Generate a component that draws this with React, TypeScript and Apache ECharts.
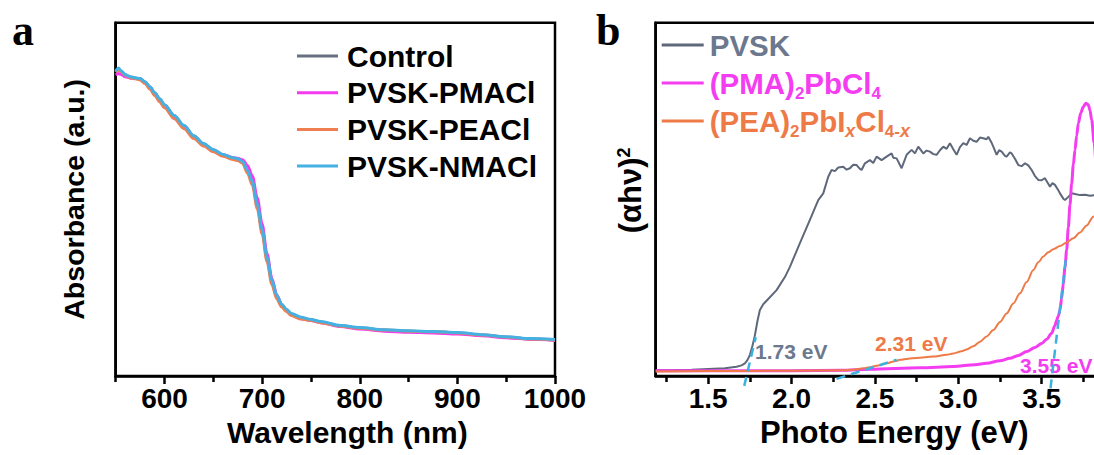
import React, { useEffect, useRef } from "react";
import * as echarts from "echarts";

// ---------- Panel a: absorbance ----------
const wavelengthNm = [550, 553, 555, 560, 565, 570, 575, 580, 585, 590, 595, 600, 610, 620, 630, 640, 650, 660, 670, 675, 680, 685, 690, 695, 700, 705, 710, 715, 720, 725, 730, 740, 750, 760, 780, 800, 825, 850, 875, 900, 925, 950, 975, 1000];
const absControl = [86.0, 86.9, 86.3, 85.2, 84.6, 84.3, 84.1, 83.2, 81.8, 80.1, 78.4, 76.7, 73.6, 70.8, 67.9, 65.7, 64.0, 62.6, 61.7, 61.4, 60.6, 58.0, 54.9, 48.4, 41.3, 33.4, 26.9, 22.6, 20.1, 18.7, 17.5, 16.4, 15.9, 15.3, 14.2, 13.6, 13.0, 12.7, 12.5, 12.2, 11.6, 11.0, 10.5, 10.2];
const absPMACl = [85.2, 85.6, 85.4, 84.7, 84.3, 84.2, 84.0, 83.1, 81.7, 80.0, 78.3, 76.6, 73.5, 70.7, 67.8, 65.6, 63.9, 62.6, 61.8, 61.6, 61.2, 59.6, 56.6, 50.4, 43.0, 34.6, 27.6, 22.9, 20.2, 18.6, 17.3, 16.2, 15.7, 15.1, 14.0, 13.3, 12.7, 12.4, 12.2, 11.9, 11.4, 10.8, 10.4, 10.1];
const absPEACl = [86.1, 86.6, 86.2, 85.1, 84.4, 84.1, 83.8, 82.8, 81.2, 79.4, 77.6, 75.9, 72.8, 70.0, 67.2, 65.1, 63.5, 62.2, 61.3, 61.0, 60.2, 57.4, 54.0, 47.4, 40.2, 32.4, 25.9, 21.8, 19.5, 18.2, 17.1, 16.1, 15.7, 15.1, 14.1, 13.5, 13.0, 12.7, 12.5, 12.2, 11.6, 11.0, 10.5, 10.2];
const absNMACl = [86.3, 87.2, 86.5, 85.3, 84.7, 84.4, 84.2, 83.3, 81.9, 80.2, 78.5, 76.8, 73.7, 70.9, 68.0, 65.8, 64.1, 62.7, 61.8, 61.5, 60.7, 58.2, 55.1, 48.6, 41.5, 33.6, 27.1, 22.8, 20.3, 18.9, 17.7, 16.6, 16.0, 15.4, 14.3, 13.7, 13.1, 12.8, 12.6, 12.3, 11.7, 11.1, 10.6, 10.3];
const wlTickLabels = [600, 700, 800, 900, 1000];
const wlMajorTicks = [600, 700, 800, 900, 1000];
const wlMinorTicks = [550, 650, 750, 850, 950];
const seriesNamesA = ["Control", "PVSK-PMACl", "PVSK-PEACl", "PVSK-NMACl"];

// ---------- Panel b: Tauc plot ----------
const pvskEnergy = [1.185, 1.3, 1.4, 1.5, 1.6, 1.67, 1.7, 1.72, 1.735, 1.75, 1.765, 1.78, 1.795, 1.81, 1.83, 1.86, 1.91, 1.96, 1.99, 2.05, 2.11, 2.16, 2.19, 2.22, 2.24, 2.26, 2.28, 2.31, 2.33, 2.35, 2.37, 2.39, 2.41, 2.42, 2.44, 2.47, 2.49, 2.51, 2.54, 2.57, 2.6, 2.61, 2.63, 2.66, 2.69, 2.72, 2.74, 2.76, 2.79, 2.81, 2.83, 2.85, 2.87, 2.89, 2.91, 2.93, 2.95, 2.97, 2.99, 3.01, 3.03, 3.05, 3.07, 3.09, 3.11, 3.13, 3.15, 3.17, 3.18, 3.2, 3.21, 3.23, 3.245, 3.26, 3.28, 3.29, 3.31, 3.32, 3.34, 3.36, 3.38, 3.4, 3.42, 3.44, 3.46, 3.48, 3.5, 3.52, 3.535, 3.55, 3.565, 3.58, 3.6, 3.61, 3.63, 3.64, 3.66, 3.68, 3.7, 3.73, 3.76, 3.79, 3.82, 3.85];
const pvskSignal = [1.6, 1.7, 1.8, 2.0, 2.2, 2.6, 3.0, 3.6, 4.5, 6.0, 8.5, 11.5, 15.5, 18.7, 20.3, 21.8, 24.3, 28.0, 30.9, 37.6, 44.2, 49.8, 51.7, 56.4, 58.3, 58.0, 59.0, 59.2, 58.4, 58.8, 59.8, 59.7, 58.6, 58.3, 60.2, 61.1, 60.3, 62.1, 61.1, 62.1, 63.0, 61.8, 61.6, 58.8, 62.6, 64.0, 63.0, 64.9, 63.0, 63.8, 63.5, 62.8, 62.6, 63.9, 64.9, 64.3, 65.9, 64.2, 62.6, 64.8, 65.9, 65.4, 67.3, 66.6, 66.3, 67.5, 67.3, 67.0, 67.7, 66.0, 64.9, 62.6, 63.9, 63.5, 62.3, 62.1, 63.3, 63.0, 61.5, 59.7, 59.4, 60.2, 59.6, 58.3, 56.6, 55.5, 55.4, 56.0, 54.8, 53.6, 54.6, 54.1, 52.6, 51.7, 50.2, 49.8, 50.7, 51.7, 51.5, 51.2, 51.3, 51.0, 51.2, 51.0];
const pmaEnergy = [1.185, 1.5, 2.0, 2.3, 2.47, 2.77, 2.97, 3.1, 3.17, 3.25, 3.31, 3.36, 3.41, 3.46, 3.5, 3.53, 3.56, 3.58, 3.59, 3.6, 3.61, 3.62, 3.63, 3.64, 3.65, 3.66, 3.67, 3.68, 3.69, 3.7, 3.71, 3.72, 3.735, 3.75, 3.765, 3.78, 3.79, 3.8, 3.815, 3.83, 3.85];
const pmaSignal = [1.5, 1.5, 1.5, 1.6, 1.9, 2.3, 2.7, 3.2, 3.6, 4.3, 5.0, 5.8, 6.9, 8.1, 9.2, 10.4, 12.1, 14.3, 15.8, 17.0, 18.7, 22.0, 26.2, 30.8, 35.7, 42.0, 48.5, 54.5, 59.8, 64.0, 68.0, 71.5, 74.5, 76.2, 77.2, 76.8, 75.2, 72.5, 66.0, 58.0, 48.0];
const peaEnergy = [1.185, 1.5, 2.0, 2.3, 2.37, 2.43, 2.47, 2.52, 2.57, 2.62, 2.65, 2.7, 2.75, 2.85, 2.93, 2.97, 3.02, 3.05, 3.09, 3.13, 3.17, 3.21, 3.25, 3.29, 3.33, 3.37, 3.41, 3.45, 3.48, 3.51, 3.54, 3.57, 3.61, 3.65, 3.69, 3.73, 3.77, 3.81, 3.85];
const peaSignal = [1.3, 1.4, 1.5, 1.6, 1.8, 2.2, 2.5, 3.0, 3.6, 4.2, 4.6, 4.9, 5.1, 5.5, 6.0, 6.4, 7.0, 7.5, 8.4, 9.7, 11.2, 13.0, 15.3, 17.7, 20.5, 23.4, 26.6, 30.0, 32.2, 33.8, 35.0, 35.9, 36.8, 37.8, 39.0, 40.6, 42.6, 45.1, 47.8];
const tangentPvsk = [[1.716, -2.8], [1.785, 11.0]];
const tangentPea = [[2.27, -0.8], [2.63, 4.6]];
const tangentPma = [[3.553, -3.5], [3.645, 33.0]];
const eLabels = [1.5, 2.0, 2.5, 3.0, 3.5];
const eMajorTicks = [1.5, 2.0, 2.5, 3.0, 3.5, 4.0];
const eMinorTicks = [1.25, 1.75, 2.25, 2.75, 3.25, 3.75];
const seriesNamesB = ["PVSK", "(PMA)₂PbCl₄", "(PEA)₂PbIₓCl₄₋ₓ"];
const gapLabels = ["1.73 eV", "2.31 eV", "3.55 eV"];

const FONT = "'Liberation Sans', Arial, Helvetica, sans-serif";
const COL_A = ["#68707f", "#f33cf0", "#ee7f52", "#45b1e3"];
const COL_GRAY = "#5f687b";
const COL_GRAY_TXT = "#6c788d";
const COL_MAG = "#f43cf0";
const COL_ORG = "#ee7a48";
const COL_CYAN = "#3cb1df";

const zip = (xs: number[], ys: number[]) => xs.map((x, i) => [x, ys[i]]);

export default function App() {
  const ref = useRef<HTMLDivElement>(null);
  useEffect(() => {
    if (!ref.current) return;
    const chart = echarts.init(ref.current, undefined, { renderer: "svg" });
    const tickFont = { color: "#000", fontSize: 28, fontWeight: "bold" as const, fontFamily: FONT };
    const nameFont = { color: "#000", fontSize: 30, fontWeight: "bold" as const, fontFamily: FONT };
    const gridCommon = { top: 22.7, height: 353.3, show: true, borderColor: "#000", borderWidth: 2.5, backgroundColor: "transparent" };
    const lineBlack = { color: "#000", width: 2.5 };

    const absSets = [absControl, absPMACl, absPEACl, absNMACl];

    const option: any = {
      animation: false,
      backgroundColor: "#fff",
      grid: [
        { ...gridCommon, left: 115.7, width: 439.3 },
        { ...gridCommon, left: 655.7, width: 469.3 },
      ],
      xAxis: [
        {
          type: "value", gridIndex: 0, min: 550, max: 1000, position: "bottom",
          axisLine: { show: true, lineStyle: lineBlack },
          axisTick: { show: true, inside: false, length: 8, lineStyle: lineBlack, customValues: wlMajorTicks },
          axisLabel: { show: true, margin: 8, customValues: wlTickLabels, formatter: (v: number) => String(v), ...tickFont },
          splitLine: { show: false },
          name: "Wavelength (nm)", nameLocation: "middle", nameGap: 41,
          nameTextStyle: { ...nameFont, padding: [0, 0, 0, 24] },
        },
        {
          type: "value", gridIndex: 0, min: 550, max: 1000, position: "bottom",
          axisLine: { show: false },
          axisTick: { show: true, inside: false, length: 6, lineStyle: lineBlack, customValues: wlMinorTicks },
          axisLabel: { show: false },
          splitLine: { show: false },
        },
        {
          type: "value", gridIndex: 1, min: 1.185, max: 4.0, position: "bottom",
          axisLine: { show: true, lineStyle: lineBlack },
          axisTick: { show: true, inside: false, length: 8, lineStyle: lineBlack, customValues: eMajorTicks },
          axisLabel: { show: true, margin: 8, customValues: eLabels, formatter: (v: number) => v.toFixed(1), ...tickFont },
          splitLine: { show: false },
          name: "Photo Energy (eV)", nameLocation: "middle", nameGap: 41,
          nameTextStyle: { ...nameFont, fontSize: 31, padding: [0, 0, 0, 8] },
        },
        {
          type: "value", gridIndex: 1, min: 1.185, max: 4.0, position: "bottom",
          axisLine: { show: false },
          axisTick: { show: true, inside: false, length: 6, lineStyle: lineBlack, customValues: eMinorTicks },
          axisLabel: { show: false },
          splitLine: { show: false },
        },
      ],
      yAxis: [
        {
          type: "value", gridIndex: 0, min: 0, max: 100,
          axisLine: { show: true, lineStyle: lineBlack },
          axisTick: { show: false }, axisLabel: { show: false }, splitLine: { show: false },
          name: "Absorbance (a.u.)", nameLocation: "middle", nameGap: 27,
          nameTextStyle: { ...nameFont, fontSize: 28.5 },
        },
        {
          type: "value", gridIndex: 1, min: 0, max: 100,
          axisLine: { show: true, lineStyle: lineBlack },
          axisTick: { show: false }, axisLabel: { show: false }, splitLine: { show: false },
          name: "(αhν){sup|2}", nameLocation: "middle", nameGap: 9,
          nameTextStyle: {
            ...nameFont, fontSize: 31, lineHeight: 32, padding: [0, 0, 0, 18],
            rich: { sup: { fontSize: 18, fontWeight: "bold", fontFamily: FONT, color: "#000", verticalAlign: "top", lineHeight: 13 } },
          },
        },
      ],
      legend: [
        {
          orient: "vertical", left: 297, top: 41, padding: 0, itemWidth: 41, itemHeight: 3, itemGap: 6.7,
          icon: "rect",
          data: seriesNamesA,
          textStyle: { color: "#000", fontSize: 30, fontWeight: "bold", fontFamily: FONT, lineHeight: 30, padding: [0, 0, 0, 4] },
          selectedMode: false,
        },
        {
          orient: "vertical", left: 661.7, top: 26, padding: 0, itemWidth: 42, itemHeight: 3, itemGap: 0,
          icon: "rect",
          selectedMode: false,
          data: [
            { name: seriesNamesB[0], textStyle: { color: COL_GRAY_TXT } },
            { name: seriesNamesB[1], textStyle: { color: COL_MAG } },
            { name: seriesNamesB[2], textStyle: { color: COL_ORG } },
          ],
          formatter: (name: string) => {
            if (name === seriesNamesB[1]) return "(PMA){ms|2}PbCl{ms|4}";
            if (name === seriesNamesB[2]) return "(PEA){os|2}PbI{ox|x}Cl{os|4-}{ox|x}";
            return name;
          },
          textStyle: {
            fontSize: 29.5, fontWeight: "bold", fontFamily: FONT, lineHeight: 38, padding: [0, 0, 0, 1],
            rich: {
              ms: { fontSize: 17, fontWeight: "bold", fontFamily: FONT, color: COL_MAG, verticalAlign: "bottom", lineHeight: 10 },
              os: { fontSize: 17, fontWeight: "bold", fontFamily: FONT, color: COL_ORG, verticalAlign: "bottom", lineHeight: 10 },
              ox: { fontSize: 18, fontWeight: "bold", fontStyle: "italic", fontFamily: FONT, color: COL_ORG, verticalAlign: "bottom", lineHeight: 10 },
            },
          },
        },
      ],
      series: [
        ...seriesNamesA.map((n, i) => ({
          name: n, type: "line", xAxisIndex: 0, yAxisIndex: 0,
          data: zip(wavelengthNm, absSets[i]), symbol: "none", smooth: 0.3, smoothMonotone: "x",
          lineStyle: { color: COL_A[i], width: 3 }, itemStyle: { color: COL_A[i] }, z: 2 + i,
        })),
        {
          name: seriesNamesB[0], type: "line", xAxisIndex: 2, yAxisIndex: 1,
          data: zip(pvskEnergy, pvskSignal), symbol: "none",
          lineStyle: { color: COL_GRAY, width: 2 }, itemStyle: { color: COL_GRAY }, z: 2,
        },
        {
          name: seriesNamesB[1], type: "line", xAxisIndex: 2, yAxisIndex: 1,
          data: zip(pmaEnergy, pmaSignal), symbol: "none", smooth: 0.3, smoothMonotone: "x",
          lineStyle: { color: COL_MAG, width: 3 }, itemStyle: { color: COL_MAG }, z: 3,
        },
        {
          name: seriesNamesB[2], type: "line", xAxisIndex: 2, yAxisIndex: 1,
          data: zip(peaEnergy, peaSignal), symbol: "none", smooth: 0.3, smoothMonotone: "x",
          lineStyle: { color: COL_ORG, width: 2 }, itemStyle: { color: COL_ORG }, z: 4,
        },
        ...[tangentPvsk, tangentPea, tangentPma].map((t) => ({
          type: "line", xAxisIndex: 2, yAxisIndex: 1, data: t, symbol: "none", clip: false, silent: true,
          lineStyle: { color: COL_CYAN, width: 2.5, type: [9, 6] }, z: 10,
        })),
      ],
      graphic: [
        { type: "text", x: 12, y: 30, style: { text: "a", font: "bold 44px 'Liberation Serif', 'Times New Roman', serif", fill: "#000", verticalAlign: "middle" } },
        { type: "text", x: 596, y: 30, style: { text: "b", font: "bold 44px 'Liberation Serif', 'Times New Roman', serif", fill: "#000", verticalAlign: "middle" } },
        { type: "text", x: 755, y: 351, z: 5, style: { text: gapLabels[0], font: `bold 21px ${FONT}`, fill: COL_GRAY_TXT, verticalAlign: "middle" } },
        { type: "text", x: 875, y: 343.5, z: 5, style: { text: gapLabels[1], font: `bold 21px ${FONT}`, fill: COL_ORG, verticalAlign: "middle" } },
        { type: "text", x: 1020, y: 365, z: 1, style: { text: gapLabels[2], font: `bold 21px ${FONT}`, fill: COL_MAG, verticalAlign: "middle" } },
      ],
    };
    chart.setOption(option);
    return () => chart.dispose();
  }, []);
  return (
    <div style={{ position: "fixed", left: 0, top: 0, width: 1094, height: 455, overflow: "hidden", background: "#fff" }}>
      <div ref={ref} style={{ width: 1140, height: 455 }} />
    </div>
  );
}
